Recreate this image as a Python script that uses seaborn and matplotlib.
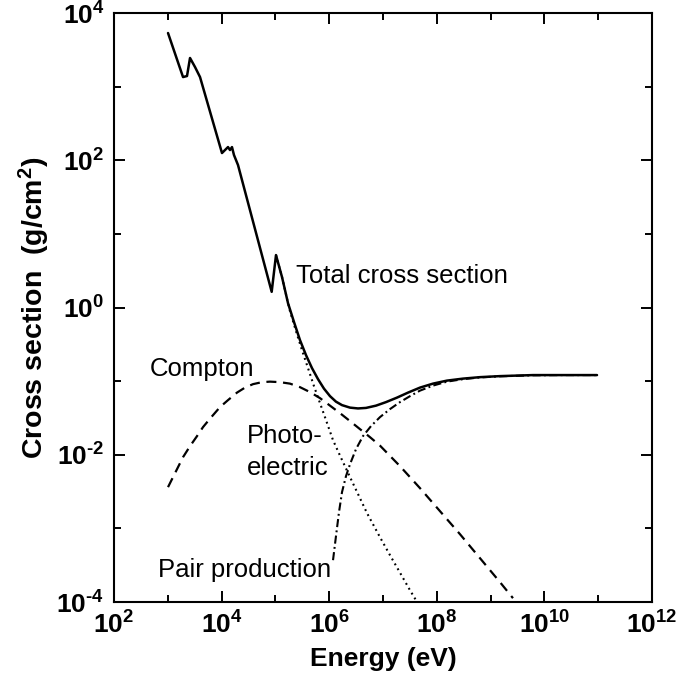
import matplotlib
matplotlib.use("Agg")
import matplotlib.pyplot as plt
import matplotlib.ticker as mticker
import numpy as np
import pandas as pd
import seaborn as sns

# ---------------- data (log10 units) ----------------
# Total cross section
total_log_energy = [3.004, 3.283, 3.357, 3.413, 3.506, 3.599, 4.007, 4.119, 4.156, 4.193,
                    4.230, 4.305, 4.931, 5.011, 5.123, 5.234, 5.346, 5.457, 5.569, 5.680,
                    5.792, 5.903, 6.015, 6.126, 6.238, 6.387, 6.535, 6.684, 6.870, 7.056,
                    7.260, 7.465, 7.688, 7.929, 8.190, 8.487, 8.803, 9.175, 9.788, 10.290,
                    10.978]
total_log_xs = [3.728, 3.130, 3.144, 3.389, 3.266, 3.130, 2.098, 2.179, 2.139, 2.179,
                2.071, 1.935, 0.213, 0.712, 0.413, 0.060, -0.198, -0.443, -0.647, -0.823,
                -0.973, -1.102, -1.204, -1.279, -1.326, -1.360, -1.371, -1.364, -1.333, -1.285,
                -1.224, -1.156, -1.088, -1.034, -0.993, -0.966, -0.946, -0.932, -0.918, -0.918,
                -0.918]

# Compton scattering
compton_log_energy = [3.004, 3.134, 3.283, 3.413, 3.543, 3.654, 3.784, 3.970, 4.119, 4.286,
                      4.435, 4.584, 4.751, 4.900, 5.086, 5.271, 5.457, 5.643, 5.829, 6.015,
                      6.201, 6.387, 6.572, 6.758, 6.944, 7.316, 7.688, 8.059, 8.431, 8.803,
                      9.175, 9.416]
compton_log_xs = [-2.440, -2.250, -2.033, -1.883, -1.747, -1.625, -1.510, -1.353, -1.258, -1.156,
                  -1.088, -1.041, -1.014, -1.007, -1.014, -1.034, -1.082, -1.149, -1.231, -1.333,
                  -1.435, -1.543, -1.652, -1.761, -1.876, -2.155, -2.454, -2.766, -3.079, -3.405,
                  -3.731, -3.948]

# Photoelectric absorption
photo_log_energy = [5.011, 5.123, 5.234, 5.271, 5.383, 5.494, 5.606, 5.717, 5.829, 5.941,
                    6.071, 6.201, 6.387, 6.572, 6.703, 6.944, 7.130, 7.316, 7.502, 7.613]
photo_log_xs = [0.712, 0.413, 0.060, -0.049, -0.321, -0.579, -0.823, -1.068, -1.299, -1.530,
                -1.802, -2.012, -2.304, -2.590, -2.793, -3.120, -3.364, -3.602, -3.840, -3.976]

# Pair production
pair_log_energy = [6.071, 6.126, 6.182, 6.238, 6.312, 6.387, 6.498, 6.628, 6.777, 6.944,
                   7.130, 7.316, 7.502, 7.688, 7.929, 8.190, 8.487, 8.803, 9.175, 9.788,
                   10.290, 10.978]
pair_log_xs = [-3.432, -3.106, -2.780, -2.508, -2.291, -2.128, -1.924, -1.747, -1.611, -1.489,
               -1.380, -1.285, -1.204, -1.129, -1.061, -1.007, -0.973, -0.950, -0.935, -0.921,
               -0.918, -0.918]

x_tick_exp = [2, 4, 6, 8, 10, 12]
x_minor_exp = [3, 5, 7, 9, 11]
y_tick_exp = [-4, -2, 0, 2, 4]
y_minor_exp = [-3, -1, 1, 3]

# ---------------- style ----------------
sns.set_style("ticks")
plt.rcParams["font.family"] = ["Liberation Sans", "DejaVu Sans"]
plt.rcParams["mathtext.fontset"] = "custom"
plt.rcParams["mathtext.rm"] = "Liberation Sans:bold"
plt.rcParams["mathtext.it"] = "Liberation Sans:bold"
plt.rcParams["mathtext.bf"] = "Liberation Sans:bold"
plt.rcParams["text.color"] = "black"
plt.rcParams["axes.labelcolor"] = "black"

W, H = 678, 679
fig = plt.figure(figsize=(W / 100, H / 100), dpi=100)
L, R, T, B = 114, 652, 13, 602
ax = fig.add_axes([L / W, 1 - B / H, (R - L) / W, (B - T) / H])


def frame(log_e, log_v):
    return pd.DataFrame({"E": np.power(10.0, log_e), "s": np.power(10.0, log_v)})


sns.lineplot(data=frame(total_log_energy, total_log_xs), x="E", y="s", ax=ax,
             color="black", lw=1.8, sort=False, estimator=None)
sns.lineplot(data=frame(compton_log_energy, compton_log_xs), x="E", y="s", ax=ax,
             color="black", lw=1.6, sort=False, estimator=None, linestyle=(0, (4.5, 3.0)))
sns.lineplot(data=frame(photo_log_energy, photo_log_xs), x="E", y="s", ax=ax,
             color="black", lw=1.5, sort=False, estimator=None, linestyle=(0, (0.9, 1.8)))
sns.lineplot(data=frame(pair_log_energy, pair_log_xs), x="E", y="s", ax=ax,
             color="black", lw=1.5, sort=False, estimator=None,
             linestyle=(0, (3.9, 1.6, 0.9, 1.6)))

ax.set_xscale("log")
ax.set_yscale("log")
ax.set_xlim(1e2, 1e12)
ax.set_ylim(1e-4, 1e4)


def exp_label(e):
    s = ("\\text{-}%d" % (-e)) if e < 0 else "%d" % e
    return r"$\mathrm{10^{%s}}$" % s


ax.xaxis.set_major_locator(mticker.FixedLocator([10.0 ** e for e in x_tick_exp]))
ax.xaxis.set_minor_locator(mticker.FixedLocator([10.0 ** e for e in x_minor_exp]))
ax.yaxis.set_major_locator(mticker.FixedLocator([10.0 ** e for e in y_tick_exp]))
ax.yaxis.set_minor_locator(mticker.FixedLocator([10.0 ** e for e in y_minor_exp]))
ax.set_xticklabels([exp_label(e) for e in x_tick_exp])
ax.set_yticklabels([exp_label(e) for e in y_tick_exp])
ax.xaxis.set_minor_formatter(mticker.NullFormatter())
ax.yaxis.set_minor_formatter(mticker.NullFormatter())

ax.tick_params(which="both", direction="in", top=True, right=True, width=1.4,
               colors="black", labelsize=19)
ax.tick_params(which="major", length=8, pad=7)
ax.tick_params(which="minor", length=5)
for sp in ax.spines.values():
    sp.set_linewidth(1.5)
    sp.set_color("black")
    sp.set_visible(True)

ax.set_xlabel("Energy (eV)", fontsize=19, fontweight="bold", labelpad=6, color="black")
ax.set_ylabel("Cross section  (g/cm$^2$)", fontsize=20.5, fontweight="bold",
              labelpad=3, color="black")


# annotations (positions in reference pixels)
def ptext(px, py, s):
    fig.text(px / W, 1 - py / H, s, fontsize=18.5, va="baseline", ha="left",
             color="black")


ptext(296, 283, "Total cross section")
ptext(150, 376, "Compton")
ptext(247, 443, "Photo-")
ptext(247, 475, "electric")
ptext(158, 577, "Pair production")

fig.savefig("out.png", dpi=100)
